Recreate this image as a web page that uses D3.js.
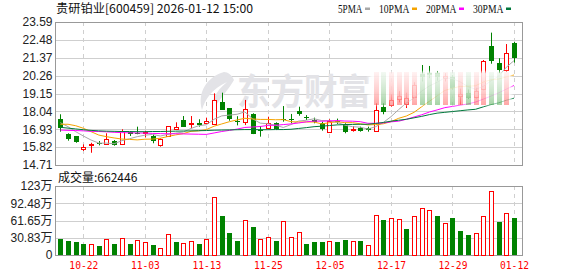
<!DOCTYPE html>
<html>
<head>
<meta charset="utf-8">
<script src="https://cdn.jsdelivr.net/npm/d3@7"></script>
<style>
  body { margin: 0; background: #fff; }
  svg { display: block; }
</style>
</head>
<body>
<svg id="chart" width="578" height="276"></svg>
<script>
"use strict";

// Data
var dates = ["10-17","10-20","10-21","10-22","10-23","10-24","10-27","10-28","10-29","10-30","10-31",
  "11-03","11-04","11-05","11-06","11-07","11-10","11-11","11-12","11-13","11-14","11-17","11-18","11-19","11-20","11-21","11-24","11-25","11-26","11-27","11-28",
  "12-01","12-02","12-03","12-04","12-05","12-08","12-09","12-10","12-11","12-12","12-15","12-16","12-17","12-18","12-19","12-22","12-23","12-24","12-25","12-26","12-29","12-30","12-31",
  "01-05","01-06","01-07","01-08","01-09","01-12"];
var open  = [17.55,16.62,16.51,15.72,15.97,16.09,16.00,16.20,16.01,16.74,16.70,16.68,16.53,15.91,16.53,16.96,17.50,17.24,17.30,17.32,
             17.24,18.64,18.23,17.47,17.34,17.88,16.88,17.05,17.32,17.55,17.57,18.08,17.66,17.50,17.30,16.78,17.45,17.24,16.92,16.99,
             16.99,16.84,18.33,18.44,18.80,18.50,18.95,20.35,20.45,20.40,20.10,20.20,19.00,19.20,18.95,19.40,22.10,21.06,20.61,22.29];
var high  = [17.86,16.68,16.51,15.99,16.09,16.20,16.68,16.26,16.93,16.80,17.09,16.84,16.62,16.37,17.13,17.36,17.75,17.75,17.55,17.65,
             19.16,19.20,18.23,17.74,18.75,17.92,17.13,17.71,17.36,18.37,17.88,18.33,17.81,17.65,17.40,17.55,17.59,17.30,17.13,17.09,
             17.09,18.54,18.54,19.10,19.30,19.20,19.85,20.92,20.86,20.55,20.40,20.30,19.45,19.40,19.50,21.23,22.93,21.34,22.22,22.35];
var low   = [16.78,16.22,16.09,15.58,15.47,15.93,16.00,15.91,15.95,16.51,16.62,16.43,16.06,15.85,16.53,16.88,17.09,16.99,17.09,17.24,
             17.24,18.13,17.46,17.17,17.19,16.63,16.47,16.99,16.88,17.40,17.30,17.77,17.50,17.30,16.84,16.72,17.26,16.68,16.78,16.78,
             16.78,16.84,17.86,18.33,18.60,18.25,18.90,19.90,20.10,19.95,19.90,19.40,18.44,18.80,18.85,19.35,21.00,20.40,20.50,21.07];
var close = [16.99,16.31,16.14,15.85,16.03,16.01,16.31,15.95,16.82,16.62,16.66,16.74,16.22,16.31,17.13,17.07,17.09,17.30,17.18,17.42,
             18.75,18.17,17.55,17.40,18.17,16.63,16.82,17.34,16.95,17.47,17.52,17.92,17.60,17.40,16.93,17.46,17.38,16.72,16.96,16.80,
             16.85,18.13,18.02,18.75,19.00,18.90,19.70,20.15,20.35,20.15,20.25,19.50,19.10,18.90,19.30,21.15,21.18,20.61,21.68,21.35];
// volume in 万手
var volume = [28.5,25.5,23.7,19.6,19.6,16.0,28.0,20.2,29.7,19.6,26.7,23.7,17.8,11.9,36.9,23.7,20.8,25.0,19.6,28.0,
              102.8,69.5,39.8,25.5,61.8,49.9,28.0,31.5,25.0,60.6,31.5,41.0,19.6,23.2,23.2,25.0,23.2,26.7,25.0,25.0,
              17.2,70.7,62.4,65.4,63.6,46.3,69.5,83.2,79.6,69.5,57.0,65.9,42.8,35.7,39.2,69.5,113.5,58.8,74.9,66.2];
var ma5  = [17.34,17.09,16.78,16.51,16.26,16.07,16.07,16.03,16.22,16.34,16.47,16.56,16.61,16.51,16.61,16.69,16.76,16.98,17.15,17.21,
            17.55,17.76,17.81,17.86,18.01,17.58,17.31,17.27,17.18,17.04,17.22,17.44,17.49,17.58,17.47,17.46,17.35,17.18,17.09,17.06,
            16.94,17.09,17.35,17.71,18.15,18.56,18.87,19.30,19.62,19.85,20.12,20.08,19.87,19.58,19.41,19.59,19.93,20.23,20.78,21.19];
var ma10 = [17.24,17.24,17.15,16.99,16.78,16.57,16.47,16.39,16.32,16.30,16.27,16.31,16.32,16.37,16.48,16.58,16.66,16.80,16.83,16.91,
            17.12,17.26,17.40,17.51,17.61,17.57,17.54,17.54,17.52,17.53,17.40,17.38,17.38,17.38,17.26,17.34,17.40,17.34,17.34,17.27,
            17.20,17.22,17.27,17.40,17.61,17.75,17.98,18.33,18.67,19.00,19.34,19.48,19.59,19.60,19.63,19.86,20.00,20.05,20.18,20.30];
var ma20 = [16.88,16.86,16.85,16.83,16.80,16.79,16.77,16.74,16.72,16.71,16.70,16.69,16.67,16.66,16.65,16.65,16.64,16.63,16.62,16.61,
            16.70,16.79,16.86,16.94,17.04,17.07,17.10,17.17,17.18,17.22,17.26,17.32,17.39,17.44,17.43,17.45,17.47,17.44,17.43,17.40,
            17.30,17.30,17.32,17.39,17.43,17.55,17.69,17.83,18.00,18.13,18.27,18.35,18.43,18.50,18.62,18.80,18.99,19.19,19.42,19.65];
var ma30 = [17.05,17.00,16.95,16.90,16.86,16.83,16.81,16.80,16.79,16.79,16.78,16.78,16.79,16.79,16.80,16.81,16.82,16.83,16.84,16.85,
            16.87,16.88,16.89,16.90,16.91,16.91,16.90,16.90,16.91,16.91,16.93,16.98,17.03,17.09,17.12,17.16,17.20,17.22,17.23,17.24,
            17.24,17.29,17.35,17.43,17.49,17.55,17.64,17.73,17.84,17.93,17.98,18.03,18.08,18.13,18.17,18.32,18.46,18.57,18.73,18.86];

var priceTicks = [14.71, 15.82, 16.93, 18.04, 19.15, 20.26, 21.37, 22.48, 23.59];
var volTicks = [0, 30.83, 61.65, 92.48, 123.31];
var volTickLabels = ["0", "30.83万", "61.65万", "92.48万", "123万"];
var dateTicks = ["10-22", "11-03", "11-13", "11-25", "12-05", "12-17", "12-29", "01-12"];
var maNames = ["5PMA", "10PMA", "20PMA", "30PMA"];
var maColours = ["#a8a8a8", "#f5a300", "#ff00ff", "#00783c"];

var RED = "#ff0000";
var GREEN = "#008200";
var GRID = "#cfcfcf";
var FRAME = "#999999";

var svg = d3.select("#chart");
var left = 56, right = 523;

// Scales
var x = d3.scalePoint().domain(dates).range([60.3, 514]);
var y = d3.scaleLinear().domain([14.71, 23.59]).range([165, 22]);
var yv = d3.scaleLinear().domain([0, 123.31]).range([255, 186]);
var cx = function(i) { return Math.round(x(dates[i])); };

// Title and legend
svg.append("text")
  .attr("x", 56).attr("y", 13)
  .attr("textLength", 197).attr("lengthAdjust", "spacingAndGlyphs")
  .style("font", "12px 'Noto Sans CJK SC'").style("fill", "#111")
  .text("贵研铂业[600459] 2026-01-12 15:00");

var lx = 338;
maNames.forEach(function(name, k) {
  var w = name.length * 6.1;
  svg.append("text")
    .attr("x", lx).attr("y", 12.8)
    .attr("textLength", w).attr("lengthAdjust", "spacingAndGlyphs")
    .style("font", "12.5px 'Liberation Serif'").style("fill", "#111")
    .text(name);
  svg.append("rect")
    .attr("x", Math.round(lx + w + 3)).attr("y", 7.5)
    .attr("width", 5).attr("height", 2.5)
    .style("fill", maColours[k]);
  lx += w + 3 + 5 + 8.5;
});

// Grids
function panel(yscale, ticks, top, bottom) {
  var g = svg.append("g");
  g.selectAll("line.h").data(ticks).enter().append("line")
    .attr("x1", left).attr("x2", right)
    .attr("y1", function(d) { return Math.round(yscale(d)) + 0.5; })
    .attr("y2", function(d) { return Math.round(yscale(d)) + 0.5; })
    .style("stroke", GRID);
  g.selectAll("line.v").data(dateTicks).enter().append("line")
    .attr("x1", function(d) { return Math.round(x(d)) + 0.5; })
    .attr("x2", function(d) { return Math.round(x(d)) + 0.5; })
    .attr("y1", top).attr("y2", bottom)
    .style("stroke", GRID).style("stroke-dasharray", "4,4");
  g.append("rect")
    .attr("x", left - 0.5).attr("y", top + 0.5)
    .attr("width", right - left).attr("height", bottom - top)
    .style("fill", "none").style("stroke", FRAME);
}
panel(y, priceTicks, 22, 165);
panel(yv, volTicks, 186, 255);

// Watermark
var wm = svg.append("g").style("fill", "#e3e3e7");
wm.append("path")
  .attr("d", "M224,72 C207,77 197,92 202,110 C205,99 212,89 227,82 C215,92 211,101 213,110 C221,97 229,89 234,80 C232,75 228,72 224,72 Z");
wm.append("text")
  .attr("x", 237).attr("y", 105)
  .attr("textLength", 134).attr("lengthAdjust", "spacingAndGlyphs")
  .style("font", "bold 36px 'Noto Sans CJK SC'")
  .text("东方财富");

// Axes
var yAxis = svg.append("g").attr("transform", "translate(" + (left - 0.5) + ",0)")
  .call(d3.axisLeft(y).tickValues(priceTicks).tickFormat(d3.format(".2f")).tickSize(0).tickPadding(3));
var vAxis = svg.append("g").attr("transform", "translate(" + (left - 0.5) + ",0)")
  .call(d3.axisLeft(yv).tickValues(volTicks).tickFormat(function(d, i) { return volTickLabels[i]; }).tickSize(0).tickPadding(3));
[yAxis, vAxis].forEach(function(a) {
  a.select(".domain").remove();
  a.selectAll("text").style("font", "12px 'Liberation Sans', 'Noto Sans CJK SC'").style("fill", "#222");
});
var xAxis = svg.append("g").attr("transform", "translate(0,255)")
  .call(d3.axisBottom(x).tickValues(dateTicks).tickSize(0).tickPadding(6));
xAxis.select(".domain").remove();
xAxis.selectAll("text")
  .attr("textLength", 29).attr("lengthAdjust", "spacingAndGlyphs")
  .style("font", "11px 'DejaVu Sans Mono'").style("fill", RED);

svg.append("text")
  .attr("x", 58).attr("y", 181.5)
  .style("font", "12px 'Noto Sans CJK SC'").style("fill", "#111")
  .text("成交量:662446");

// Candles
var idx = d3.range(dates.length);
var isUp = function(i) { return close[i] >= open[i]; };
var volUp = function(i) { return i == 0 ? close[i] >= open[i] : close[i] >= close[i - 1]; };

var candles = svg.append("g");
candles.selectAll("line").data(idx).enter().append("line")
  .attr("x1", function(i) { return cx(i) + 0.5; })
  .attr("x2", function(i) { return cx(i) + 0.5; })
  .attr("y1", function(i) { return y(high[i]); })
  .attr("y2", function(i) { return y(low[i]); })
  .style("stroke", function(i) { return isUp(i) ? RED : GREEN; });
candles.selectAll("rect").data(idx).enter().append("rect")
  .attr("x", function(i) { return isUp(i) ? cx(i) - 1.5 : cx(i) - 2; })
  .attr("width", function(i) { return isUp(i) ? 4 : 5; })
  .attr("y", function(i) {
    var t = y(Math.max(open[i], close[i]));
    return isUp(i) ? Math.round(t) + 0.5 : Math.round(t);
  })
  .attr("height", function(i) { return Math.max(1, Math.round(Math.abs(y(open[i]) - y(close[i])))); })
  .style("fill", function(i) { return isUp(i) ? "#fff" : GREEN; })
  .style("stroke", function(i) { return isUp(i) ? RED : "none"; });

// Moving averages
var mas = [ma5, ma10, ma20, ma30];
var line = d3.line().x(function(d, i) { return x(dates[i]); }).y(function(d) { return y(d); });
mas.forEach(function(m, k) {
  svg.append("path").attr("d", line(m))
    .style("fill", "none").style("stroke", maColours[k]).style("stroke-width", 1);
});

// Volume bars
var vols = svg.append("g");
vols.selectAll("rect").data(idx).enter().append("rect")
  .attr("x", function(i) { return volUp(i) ? cx(i) - 1.5 : cx(i) - 2; })
  .attr("width", function(i) { return volUp(i) ? 4 : 5; })
  .attr("y", function(i) { return volUp(i) ? Math.round(yv(volume[i])) + 0.5 : Math.round(yv(volume[i])); })
  .attr("height", function(i) { return Math.round(255 - yv(volume[i])); })
  .style("fill", function(i) { return volUp(i) ? "#fff" : GREEN; })
  .style("stroke", function(i) { return volUp(i) ? RED : "none"; });

// Faded band over the recent candles (as in the screenshot)
var defs = svg.append("defs");
var fog = defs.append("linearGradient").attr("id", "fog").attr("x1", 0).attr("y1", 0).attr("x2", 0).attr("y2", 1);
[[0, 0], [0.1, 0.9], [0.7, 0.85], [0.93, 0.55], [1, 0]].forEach(function(s) {
  fog.append("stop").attr("offset", s[0]).attr("stop-color", "#fff").attr("stop-opacity", s[1]);
});
var fogX = defs.append("linearGradient").attr("id", "fogx");
[[0, 0], [0.04, 1], [0.97, 1], [1, 0]].forEach(function(s) {
  fogX.append("stop").attr("offset", s[0]).attr("stop-color", "#fff").attr("stop-opacity", s[1]);
});
var mask = defs.append("mask").attr("id", "fogmask");
mask.append("rect").attr("x", 366).attr("y", 70).attr("width", 148).attr("height", 37).style("fill", "url(#fogx)");
svg.append("rect").attr("x", 366).attr("y", 70).attr("width", 148).attr("height", 37)
  .attr("mask", "url(#fogmask)").style("fill", "url(#fog)");

["r", "g"].forEach(function(c) {
  var gr = defs.append("linearGradient").attr("id", "bar" + c).attr("x1", 0).attr("y1", 0).attr("x2", 0).attr("y2", 1);
  [[0, 0.05], [0.6, 0.2], [1, 0.35]].forEach(function(s) {
    gr.append("stop").attr("offset", s[0]).attr("stop-color", c == "r" ? RED : GREEN).attr("stop-opacity", s[1]);
  });
});
svg.append("g").selectAll("rect").data(idx.filter(function(i) { return i >= 41 && i <= 58; })).enter().append("rect")
  .attr("x", function(i) { return cx(i) - 2; }).attr("width", 5)
  .attr("y", 72).attr("height", 33)
  .style("fill", function(i) { return isUp(i) ? "url(#barr)" : "url(#barg)"; });
</script>
</body>
</html>
